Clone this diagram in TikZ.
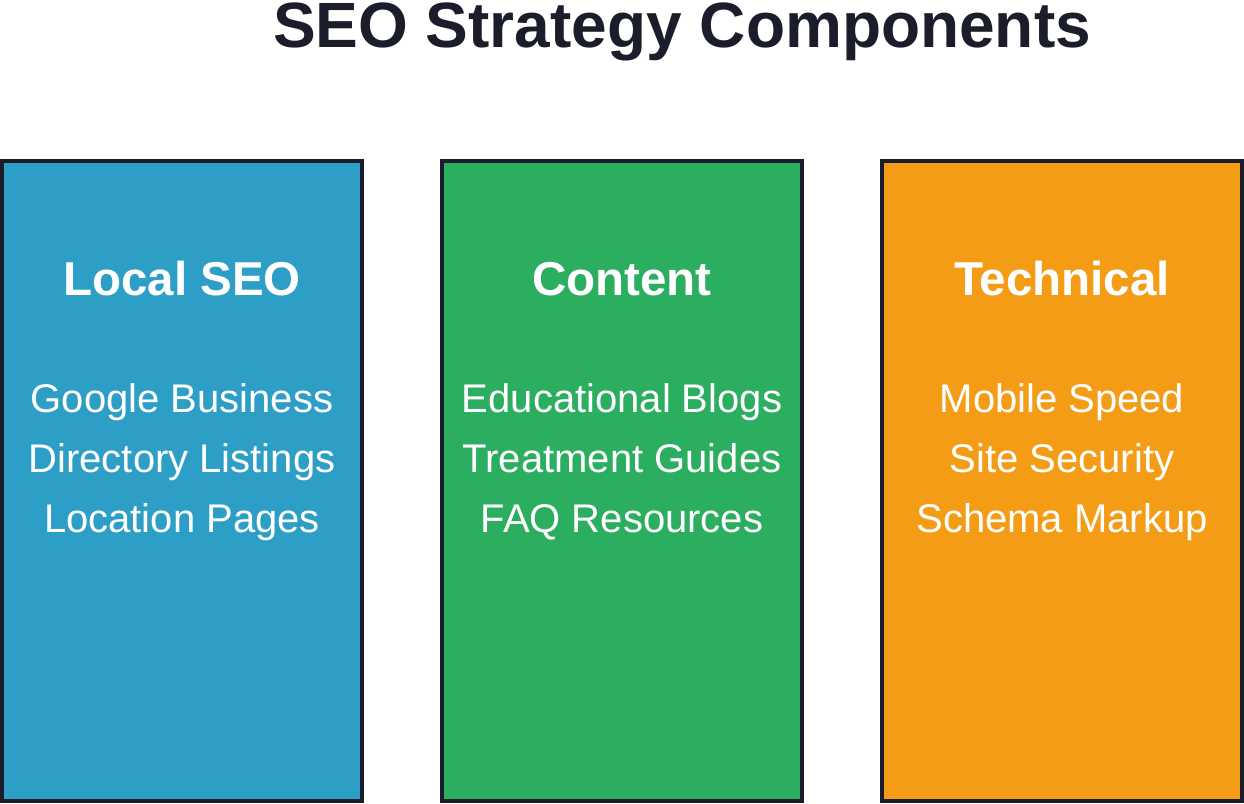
\documentclass[tikz,border=0pt]{standalone}
\usepackage{fontspec}
\setmainfont{Liberation Sans}
\definecolor{ink}{HTML}{1C1D2B}
\definecolor{cblue}{HTML}{2D9FC6}
\definecolor{cgreen}{HTML}{2BAE60}
\definecolor{corange}{HTML}{F59C17}
\tikzset{
  panel/.style={draw=ink, line width=3.7pt},
  titletext/.style={anchor=base, inner sep=0pt, text=ink, font=\fontsize{64}{64}\selectfont\bfseries},
  headtext/.style={anchor=base, inner sep=0pt, text=white, font=\fontsize{47.5}{47.5}\selectfont\bfseries},
  itemtext/.style={anchor=base, inner sep=0pt, text=white, font=\fontsize{40}{40}\selectfont},
}
\begin{document}
\begin{tikzpicture}[x=1pt,y=-1pt]
\useasboundingbox (0,0) rectangle (1244,803);
\node[titletext] (title) at (682,47) {SEO Strategy Components};
% panels
\path[panel, fill=cblue] (2,161) rectangle (362,801);
\path[panel, fill=cgreen] (442,161) rectangle (802,801);
\path[panel, fill=corange] (882,161) rectangle (1242,801);
% Local SEO
\node[headtext] (h1) at (182,295) {Local SEO};
\node[itemtext] (a1) at (182,412) {Google Business};
\node[itemtext] (a2) at (182,472) {Directory Listings};
\node[itemtext] (a3) at (182,532) {Location Pages};
% Content
\node[headtext] (h2) at (622,295) {Content};
\node[itemtext] (b1) at (622,412) {Educational Blogs};
\node[itemtext] (b2) at (622,472) {Treatment Guides};
\node[itemtext] (b3) at (622,532) {FAQ Resources};
% Technical
\node[headtext] (h3) at (1062,295) {Technical};
\node[itemtext] (c1) at (1062,412) {Mobile Speed};
\node[itemtext] (c2) at (1062,472) {Site Security};
\node[itemtext] (c3) at (1062,532) {Schema Markup};
\end{tikzpicture}
\end{document}
